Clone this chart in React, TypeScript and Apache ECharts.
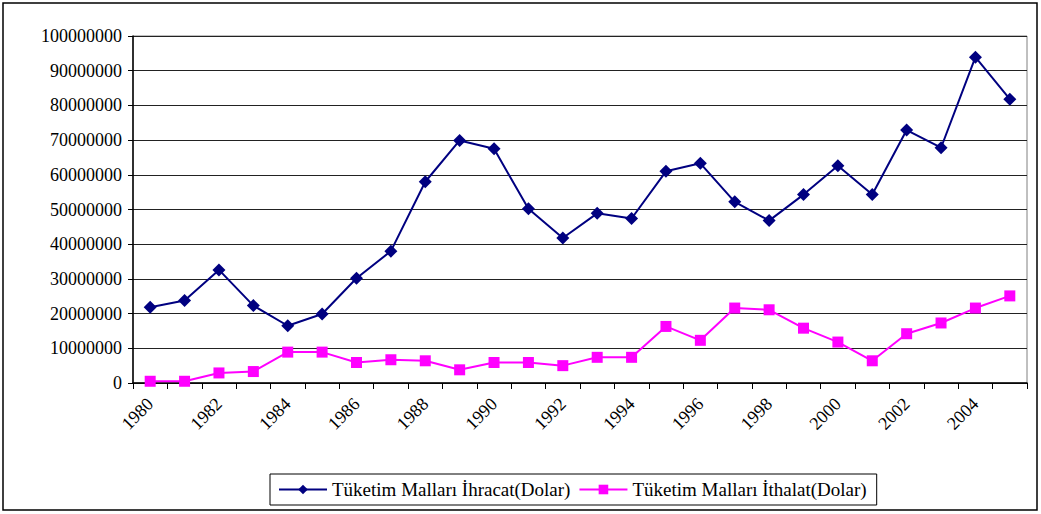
import React, { useEffect, useRef } from "react";
import * as echarts from "echarts";

const years: string[] = [
  "1980", "1981", "1982", "1983", "1984", "1985", "1986", "1987", "1988", "1989",
  "1990", "1991", "1992", "1993", "1994", "1995", "1996", "1997", "1998", "1999",
  "2000", "2001", "2002", "2003", "2004", "2005",
];

const ihracat: number[] = [
  21800000, 23800000, 32600000, 22300000, 16500000, 19900000, 30200000, 38000000,
  58000000, 69900000, 67500000, 50200000, 41800000, 48900000, 47400000, 61000000,
  63300000, 52200000, 46800000, 54300000, 62600000, 54300000, 72900000, 67800000,
  93900000, 81800000,
];

const ithalat: number[] = [
  500000, 500000, 2900000, 3300000, 8900000, 8900000, 5900000, 6700000,
  6400000, 3800000, 5900000, 5900000, 5000000, 7400000, 7400000, 16300000,
  12300000, 21600000, 21100000, 15800000, 11800000, 6400000, 14200000, 17300000,
  21600000, 25100000,
];

const seriesNames: string[] = [
  "Tüketim Malları İhracat(Dolar)",
  "Tüketim Malları İthalat(Dolar)",
];

const FONT = "Liberation Serif";

export default function App() {
  const ref = useRef<HTMLDivElement>(null);

  useEffect(() => {
    document.body.style.margin = "0";
    if (!ref.current) return;
    const chart = echarts.init(ref.current, null, { renderer: "svg" });
    chart.setOption({
      animation: false,
      backgroundColor: "#ffffff",
      textStyle: { fontFamily: FONT, color: "#000" },
      graphic: [
        {
          type: "rect",
          shape: { x: 3, y: 3, width: 1034, height: 507 },
          style: { fill: "none", stroke: "#000", lineWidth: 1.5 },
          silent: true,
        },
      ],
      grid: {
        left: 133,
        right: 14,
        top: 36,
        bottom: 131,
        show: true,
        borderColor: "#808080",
        borderWidth: 1,
      },
      legend: {
        left: 270,
        top: 474,
        width: 660,
        padding: [6, 10, 6, 8],
        borderColor: "#000",
        borderWidth: 1,
        itemGap: 8,
        itemWidth: 48,
        itemHeight: 12,
        textStyle: { fontFamily: FONT, fontSize: 19, color: "#000" },
        data: seriesNames,
      },
      xAxis: {
        type: "category",
        data: years,
        boundaryGap: true,
        axisLine: { lineStyle: { color: "#000", width: 1.5 } },
        axisTick: { show: true, interval: 0, length: 6, lineStyle: { color: "#000" } },
        axisLabel: {
          interval: 1,
          rotate: 45,
          fontFamily: FONT,
          fontSize: 18,
          color: "#000",
          margin: 18,
        },
        splitLine: { show: false },
      },
      yAxis: {
        type: "value",
        min: 0,
        max: 100000000,
        interval: 10000000,
        axisLine: { show: true, lineStyle: { color: "#000", width: 1.5 } },
        axisTick: { show: true, length: 5, lineStyle: { color: "#000" } },
        axisLabel: {
          fontFamily: FONT,
          fontSize: 18,
          color: "#000",
          margin: 11,
          formatter: (v: number) => String(v),
        },
        splitLine: { show: true, lineStyle: { color: "#222", width: 1 } },
      },
      series: [
        {
          name: seriesNames[0],
          type: "line",
          data: ihracat,
          symbol: "diamond",
          symbolSize: 13,
          lineStyle: { color: "#000080", width: 2 },
          itemStyle: { color: "#000080" },
        },
        {
          name: seriesNames[1],
          type: "line",
          data: ithalat,
          symbol: "rect",
          symbolSize: 11,
          lineStyle: { color: "#FF00FF", width: 2 },
          itemStyle: { color: "#FF00FF" },
        },
      ],
    });
    return () => chart.dispose();
  }, []);

  return (
    <div
      ref={ref}
      style={{ position: "absolute", left: 0, top: 0, width: 1041, height: 514 }}
    />
  );
}
